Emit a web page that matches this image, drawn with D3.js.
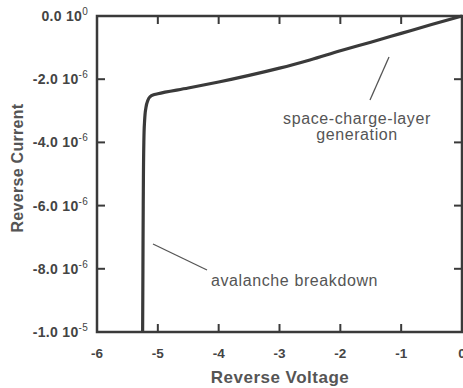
<!DOCTYPE html>
<html><head><meta charset="utf-8">
<script src="https://cdn.jsdelivr.net/npm/d3@7"></script>
<style>body{margin:0;background:#fff}svg{display:block}</style>
</head><body>
<svg id="c" width="463" height="388"></svg>
<script>
const voltage = [-5.25,-5.245,-5.24,-5.23,-5.22,-5.2,-5.17,-5.13,-5.08,-5.0,-4.5,-4.0,-3.5,-3.0,-2.5,-2.0,-1.5,-1.0,-0.5,0];
const current = [-10.0,-8.0,-6.0,-4.0,-3.4,-2.95,-2.7,-2.56,-2.5,-2.46,-2.28,-2.09,-1.88,-1.65,-1.39,-1.1,-0.83,-0.55,-0.27,0]; // x1e-6
const xTicks = [-6,-5,-4,-3,-2,-1,0];
const yTicks = [0,-2,-4,-6,-8,-10];
const yTickMant = ["0.0","-2.0","-4.0","-6.0","-8.0","-1.0"];
const yTickExp = ["0","-6","-6","-6","-6","-5"];

const svg = d3.select("#c");
const L=97,R=462,T=16,B=332;
const x = d3.scaleLinear().domain([-6,0]).range([L,R]);
const y = d3.scaleLinear().domain([-10,0]).range([B,T]);
const col="#3a3a3a", font="Helvetica, Arial, 'Liberation Sans', sans-serif";

svg.append("rect").attr("x",L).attr("y",T).attr("width",R-L).attr("height",B-T)
  .attr("fill","none").attr("stroke",col).attr("stroke-width",2.5);

const tl=8;
xTicks.slice(1,-1).forEach(v=>{
  svg.append("line").attr("x1",x(v)).attr("x2",x(v)).attr("y1",B).attr("y2",B-tl).attr("stroke",col).attr("stroke-width",2);
  svg.append("line").attr("x1",x(v)).attr("x2",x(v)).attr("y1",T).attr("y2",T+tl).attr("stroke",col).attr("stroke-width",2);
});
xTicks.forEach(v=>{
  svg.append("text").attr("x",x(v)).attr("y",358).attr("text-anchor","middle")
    .attr("font-family",font).attr("font-size",13.5).attr("font-weight","bold").attr("fill","#444").text(v);
});
yTicks.slice(1,-1).forEach(v=>{
  svg.append("line").attr("x1",L).attr("x2",L+tl).attr("y1",y(v)).attr("y2",y(v)).attr("stroke",col).attr("stroke-width",2);
  svg.append("line").attr("x1",R).attr("x2",R-tl).attr("y1",y(v)).attr("y2",y(v)).attr("stroke",col).attr("stroke-width",2);
});
yTicks.forEach((v,i)=>{
  const t=svg.append("text").attr("x",88).attr("y",y(v)+5).attr("text-anchor","end")
    .attr("font-family",font).attr("font-size",14).attr("font-weight","bold").attr("fill","#444")
    .attr("letter-spacing",0.3);
  t.append("tspan").text(yTickMant[i]+" 10");
  t.append("tspan").attr("dy",-6).attr("font-size",10).attr("font-weight","normal").text(yTickExp[i]);
});

svg.append("text").attr("x",280).attr("y",383).attr("text-anchor","middle")
  .attr("font-family",font).attr("font-size",17).attr("font-weight","bold").attr("fill","#555")
  .attr("letter-spacing",0.5).text("Reverse Voltage");
svg.append("text").attr("transform","translate(23,168) rotate(-90)").attr("text-anchor","middle")
  .attr("font-family",font).attr("font-size",16).attr("font-weight","bold").attr("fill","#555")
  .attr("letter-spacing",0.3).text("Reverse Current");

const data = voltage.map((v,i)=>[v,current[i]]);
svg.append("path").datum(data)
  .attr("d",d3.line().x(d=>x(d[0])).y(d=>y(d[1])).curve(d3.curveMonotoneY))
  .attr("fill","none").attr("stroke",col).attr("stroke-width",3.2);

svg.append("line").attr("x1",389).attr("y1",57).attr("x2",370).attr("y2",100).attr("stroke","#555").attr("stroke-width",1.3);
svg.append("text").attr("x",357).attr("y",124).attr("text-anchor","middle")
  .attr("font-family",font).attr("font-size",16).attr("letter-spacing",0.6).attr("fill","#555").text("space-charge-layer");
svg.append("text").attr("x",357).attr("y",140).attr("text-anchor","middle")
  .attr("font-family",font).attr("font-size",16).attr("letter-spacing",0.6).attr("fill","#555").text("generation");
svg.append("line").attr("x1",153).attr("y1",244).attr("x2",207).attr("y2",270).attr("stroke","#555").attr("stroke-width",1.3);
svg.append("text").attr("x",211).attr("y",286)
  .attr("font-family",font).attr("font-size",16).attr("letter-spacing",0.6).attr("fill","#555").text("avalanche breakdown");
</script>
</body></html>
